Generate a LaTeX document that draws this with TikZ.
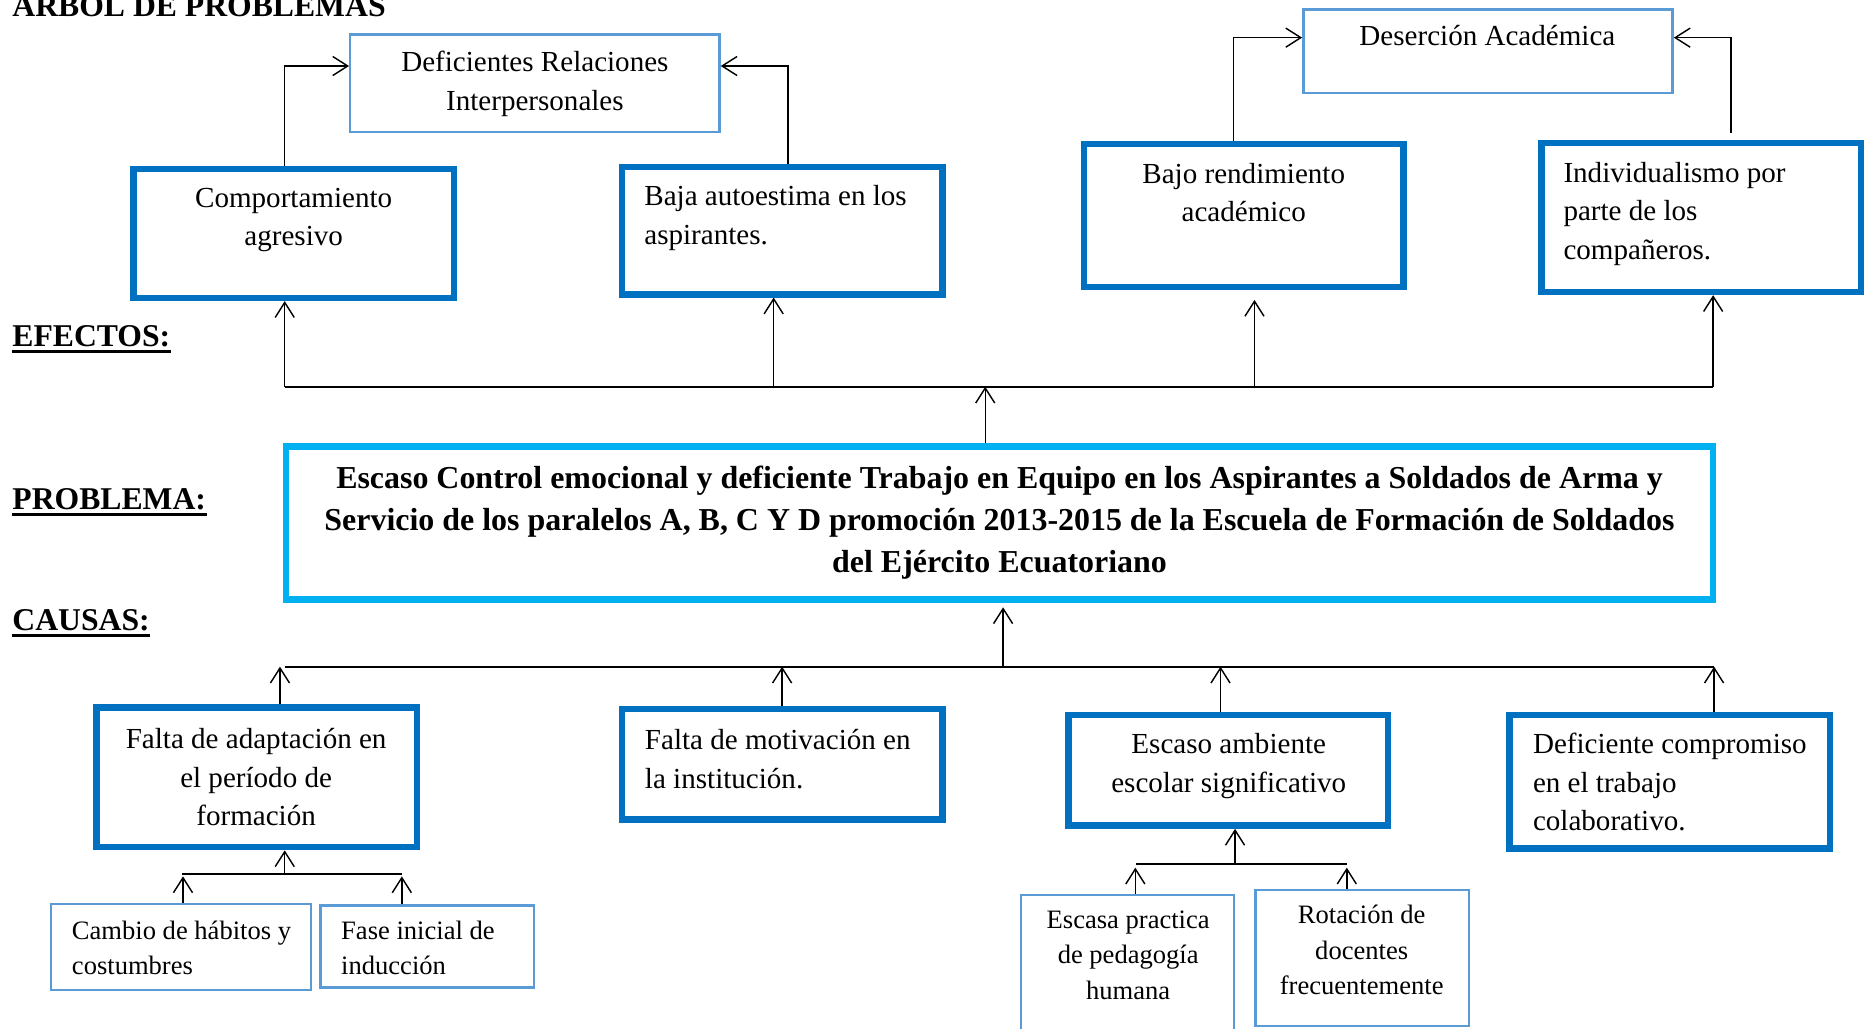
\documentclass[tikz,border=0pt]{standalone}
\usepackage{fontspec}
\setmainfont{Liberation Serif}
\usetikzlibrary{arrows.meta,fit}
\definecolor{thickblue}{HTML}{0070C0}
\definecolor{thinblue}{HTML}{5B9BD5}
\definecolor{probcyan}{HTML}{00B0F0}
\tikzset{
  thickbox/.style={draw=thickblue, line width=2.75pt, inner sep=0pt},
  thinbox/.style={draw=thinblue, line width=1pt, inner sep=0pt},
  probbox/.style={draw=probcyan, line width=2.75pt, inner sep=0pt},
  maintxt/.style={inner sep=0pt, font=\fontsize{12.2}{16.2}\selectfont},
  subtxt/.style={inner sep=0pt, font=\fontsize{11.15}{14.8}\selectfont},
  probtxt/.style={inner sep=0pt, align=center, anchor=north, font=\fontsize{13.4}{17.75}\selectfont\bfseries},
  lab/.style={inner sep=0pt, anchor=base west, font=\fontsize{13.3}{16}\selectfont\bfseries},
  conn/.style={draw=black, line width=0.6pt, -{Straight Barb[length=6.3pt,width=8pt]}},
  trunk/.style={draw=black, line width=0.9pt},
  uline/.style={draw=black, line width=1.2pt},
}
\begin{document}
\begin{tikzpicture}[x=0.5pt,y=-0.5pt]
\useasboundingbox (0,0) rectangle (1568,863);
\clip (0,0) rectangle (1568,863);
\fill[white] (0,0) rectangle (1568,863);

% labels
\node[lab] (title) at (10,14) {ARBOL DE PROBLEMAS};
\node[lab] (efe) at (10,291) {EFECTOS:};
\node[lab] (pro) at (10,428) {PROBLEMA:};
\node[lab] (cau) at (10,529) {CAUSAS:};
\draw[uline] ([yshift=-2.1pt]efe.base west) -- ([yshift=-2.1pt]efe.base east);
\draw[uline] ([yshift=-2.1pt]pro.base west) -- ([yshift=-2.1pt]pro.base east);
\draw[uline] ([yshift=-2.1pt]cau.base west) -- ([yshift=-2.1pt]cau.base east);

% effect boxes
\node[thinbox, fit={(294,29) (604,111)}] (defic) {};
\node[thinbox, fit={(1094,8) (1404,78)}] (deser) {};
\node[thickbox, fit={(112,142) (381,250)}] (comp) {};
\node[thickbox, fit={(522,140) (791,247)}] (baja) {};
\node[thickbox, fit={(910,121) (1178,241)}] (bajo) {};
\node[thickbox, fit={(1294,120) (1562,245)}] (indiv) {};

\node[maintxt, anchor=north, align=center] (tdefic) at (449,36.9) {\strut Deficientes Relaciones\\Interpersonales};
\node[maintxt, anchor=north, align=center] (tdeser) at (1248.5,15.2) {\strut Deserción Académica};
\node[maintxt, anchor=north, align=center] (tcomp) at (246.5,150.9) {\strut Comportamiento\\agresivo};
\node[maintxt, anchor=north west, align=left] (tbaja) at (540.5,149.4) {\strut Baja autoestima en los\\aspirantes.};
\node[maintxt, anchor=north, align=center] (tbajo) at (1044,130.8) {\strut Bajo rendimiento\\académico};
\node[maintxt, anchor=north west, align=left] (tindiv) at (1312,129.9) {\strut Individualismo por\\parte de los\\compañeros.};

% problem
\node[probbox, fit={(240,375) (1438,503)}] (prob) {};
\node[probtxt] (tprob) at (839,384.5) {\strut Escaso Control emocional y deficiente Trabajo en Equipo en los Aspirantes a Soldados de Arma y\\Servicio de los paralelos A, B, C Y D promoción 2013-2015 de la Escuela de Formación de Soldados\\del Ejército Ecuatoriano};

% cause boxes
\node[thickbox, fit={(81,594) (350,711)}] (adapt) {};
\node[thickbox, fit={(522,595) (791,688)}] (motiv) {};
\node[thickbox, fit={(897,600) (1165,693)}] (amb) {};
\node[thickbox, fit={(1267,600) (1536,712)}] (comprom) {};
\node[maintxt, anchor=north, align=center] (tadapt) at (215,605.4) {\strut Falta de adaptación en\\el período de\\formación};
\node[maintxt, anchor=north west, align=left] (tmotiv) at (541,606.4) {\strut Falta de motivación en\\la institución.};
\node[maintxt, anchor=north, align=center] (tamb) at (1031.4,609.4) {\strut Escaso ambiente\\escolar significativo};
\node[maintxt, anchor=north west, align=left] (tcomprom) at (1286.4,609.4) {\strut Deficiente compromiso\\en el trabajo\\colaborativo.};

% sub-cause boxes
\node[thinbox, fit={(43,759) (261,831)}] (cambio) {};
\node[thinbox, fit={(269,760) (448,829)}] (fase) {};
\node[thinbox, fit={(857,751) (1036,900)}] (escasa) {};
\node[thinbox, fit={(1054,747) (1233,861)}] (rot) {};
\node[subtxt, anchor=north west, align=left] (tcambio) at (60,767.3) {\strut Cambio de hábitos y\\costumbres};
\node[subtxt, anchor=north west, align=left] (tfase) at (286,767.3) {\strut Fase inicial de\\inducción};
\node[subtxt, anchor=north, align=center] (tescasa) at (947,758.3) {\strut Escasa practica\\de pedagogía\\humana};
\node[subtxt, anchor=north, align=center] (trot) at (1143,754.3) {\strut Rotación de\\docentes\\frecuentemente};

% trunk coordinates
\coordinate (eL) at (239,324.6);
\coordinate (eR) at (1438,324.6);
\coordinate (cL) at (239,559.6);
\coordinate (cR) at (1438.8,559.6);
\coordinate (aL) at (152.6,733.6);
\coordinate (aR) at (337.3,733.6);
\coordinate (sL) at (953.3,725.3);
\coordinate (sR) at (1130.7,725.3);

% effects connectors
\draw[conn] ([xshift=-3.75pt]comp.north) |- ([yshift=7.3pt]defic.west);
\draw[conn] ([xshift=2.55pt]baja.north) |- ([yshift=7.3pt]defic.east);
\draw[conn] ([xshift=-4.25pt]bajo.north) |- ([yshift=5.7pt]deser.west);
\draw[conn] ([xshift=12.5pt,yshift=2.8pt]indiv.north) |- ([yshift=5.7pt]deser.east);

\draw[trunk] (eL) -- (eR);
\draw[conn] (eL) -- (eL |- comp.south);
\draw[conn] ([xshift=-3.55pt]baja.south |- eL) -- ([xshift=-3.55pt]baja.south);
\draw[conn] ([xshift=4.5pt]bajo.south |- eL) -- ([xshift=4.5pt,yshift=-4pt]bajo.south);
\draw[conn] (eR) -- (eR |- indiv.south);
\draw[conn] ([xshift=-6pt]prob.north) -- ([xshift=-6pt]prob.north |- eL);

% causes connectors
\draw[trunk] (cL) -- (cR);
\draw[conn] ([xshift=1.5pt]prob.south |- cL) -- ([xshift=1.5pt,yshift=-2pt]prob.south);
\draw[conn] ([xshift=9.75pt]adapt.north) -- ([xshift=9.75pt]adapt.north |- cL);
\draw[conn] (motiv.north) -- (motiv.north |- cL);
\draw[conn] ([xshift=-3.25pt]amb.north) -- ([xshift=-3.25pt]amb.north |- cL);
\draw[conn] (cR |- comprom.north) -- (cR);

% sub-causes connectors
\draw[trunk] (aL) -- (aR);
\draw[conn] ([xshift=11.75pt]adapt.south |- aL) -- ([xshift=11.75pt]adapt.south);
\draw[conn] ([xshift=0.8pt]cambio.north) -- ([xshift=0.8pt,yshift=-1pt]cambio.north |- aL);
\draw[conn] ([xshift=-10.6pt]fase.north) -- ([xshift=-10.6pt,yshift=-1pt]fase.north |- aL);

\draw[trunk] (sL) -- (sR);
\draw[conn] ([xshift=2.85pt]amb.south |- sL) -- ([xshift=2.85pt]amb.south);
\draw[conn] ([xshift=3.25pt]escasa.north) -- ([xshift=3.25pt,yshift=-1.5pt]escasa.north |- sL);
\draw[conn] ([xshift=-6.5pt]rot.north) -- ([xshift=-6.5pt,yshift=-1.5pt]rot.north |- sL);
\end{tikzpicture}
\end{document}
